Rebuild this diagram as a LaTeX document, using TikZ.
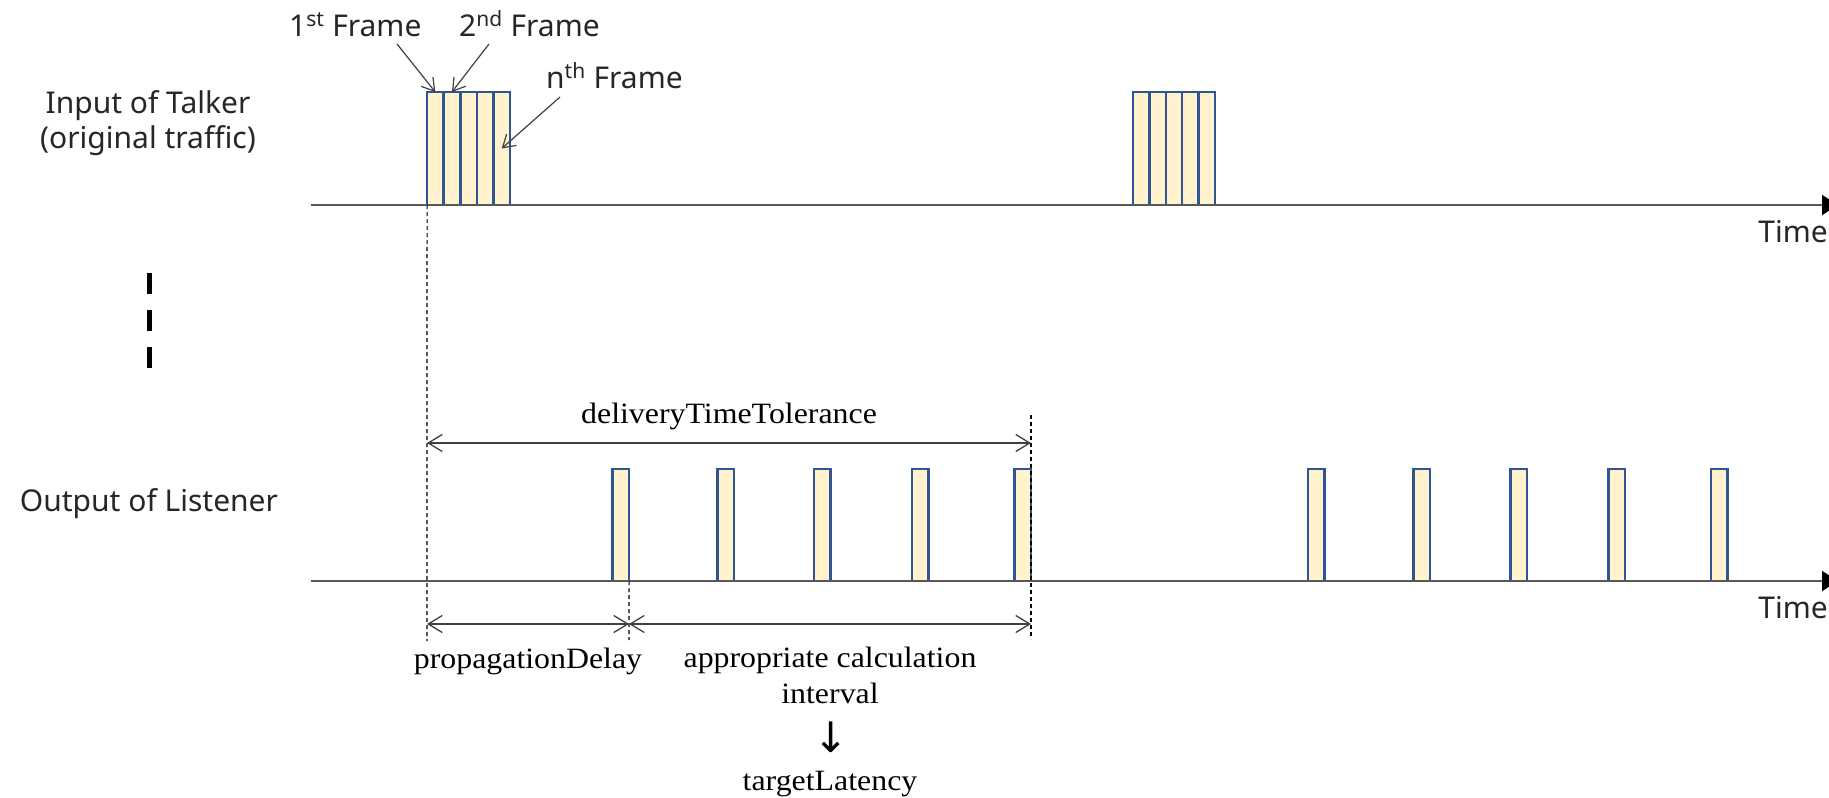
\documentclass[tikz,border=0pt]{standalone}
\usepackage{fontspec}
\usetikzlibrary{arrows.meta}
\newfontfamily\sansf{Noto Sans}
\newfontfamily\seriff[FakeStretch=1.08]{Liberation Serif}
\newfontfamily\arrowf{DejaVu Sans}
\definecolor{frfill}{HTML}{FFF2CC}
\definecolor{frdraw}{HTML}{2F5597}
\definecolor{axisc}{HTML}{595959}
\definecolor{dimc}{HTML}{404040}
\definecolor{txtc}{HTML}{262626}
\tikzset{
  frame/.style={draw=frdraw, fill=frfill, line width=2.5pt, minimum width=16.5pt, minimum height=113pt, inner sep=0pt, outer sep=0pt},
  pulse/.style={draw=frdraw, fill=frfill, line width=2.5pt, minimum width=16.5pt, minimum height=112pt, inner sep=0pt, outer sep=0pt},
  axisline/.style={draw=axisc, line width=1.8pt, -{Triangle[length=16pt,width=20pt,color=black]}},
  sanslab/.style={font=\sansf\fontsize{30}{36}\selectfont, text=txtc, inner sep=0pt},
  seriflab/.style={font=\seriff\fontsize{29.5}{36}\selectfont, text=black, inner sep=0pt},
  dimline/.style={draw=dimc, line width=1.3pt, {Straight Barb[length=14pt,width=17pt]}-{Straight Barb[length=14pt,width=17pt]}},
  callout/.style={draw=dimc, line width=1.2pt, -{Straight Barb[length=12pt,width=15pt]}},
  guide/.style={draw=black, line width=1.1pt, dash pattern=on 4pt off 3pt}
}
\begin{document}
\begin{tikzpicture}[x=1pt,y=-1pt]
\useasboundingbox (0,0) rectangle (1829,798);
% axes
\coordinate (ta0) at (311,205);
\coordinate (ta1) at (1838,205);
\coordinate (la0) at (311,581);
\coordinate (la1) at (1838,581);
% top frames
\foreach \i/\x in {1/435.3,2/451.9,3/468.5,4/485.1,5/501.7}
  \node[frame] (f\i) at (\x,148.5) {};
\foreach \i/\x in {1/1141.2,2/1157.6,3/1174,4/1190.4,5/1206.8}
  \node[frame] (g\i) at (\x,148.5) {};
% pulses
\foreach \i/\x in {1/620.8,2/725.5,3/822.4,4/920.4,5/1022.8,6/1316,7/1421.5,8/1518.5,9/1616.5,10/1719}
  \node[pulse] (p\i) at (\x,525) {};
\draw[axisline] (ta0) -- (ta1);
\draw[axisline] (la0) -- (la1);
% axis labels
\node[sanslab, anchor=base east] (time1) at (1828,242) {Time};
\node[sanslab, anchor=base east] (time2) at (1828,618) {Time};
\node[sanslab, anchor=base] (in1) at (148,113) {Input of Talker};
\node[sanslab, anchor=base] (in2) at (148,148) {(original traffic)};
\node[sanslab, anchor=base] (out1) at (149,511) {Output of Listener};
% vertical ellipsis dashes
\coordinate (vd0) at (149,273);
\coordinate (vd1) at (149,368);
\draw[line width=5pt, dash pattern=on 21pt off 16pt] (vd0) -- (vd1);
% frame labels
\node[sanslab, anchor=base west] (l1) at (289,36) {1\textsuperscript{st} Frame};
\node[sanslab, anchor=base west] (l2) at (459,36) {2\textsuperscript{nd} Frame};
\node[sanslab, anchor=base west] (ln) at (546,88) {n\textsuperscript{th} Frame};
\coordinate (s1) at (397,44);
\coordinate (s2) at (489,44);
\coordinate (sn) at (560,97);
\draw[callout] (s1) -- (f1.north);
\draw[callout] (s2) -- (f2.north);
\draw[callout] (sn) -- (f5.center);
% guide lines
\coordinate (gA) at (427,641);
\coordinate (gB) at (629,640);
\coordinate (gC0) at (1031,415);
\coordinate (gC1) at (1031,639);
\draw[guide] (f1.south west) -- (gA);
\draw[guide] (p1.south east) -- (gB);
\draw[guide] (gC0) -- (gC1);
% dimension lines
\coordinate (dt0) at (427,443);
\coordinate (dt1) at (1031,443);
\coordinate (pd0) at (427,624);
\coordinate (pd1) at (629,624);
\coordinate (ai1) at (1031,624);
\draw[dimline] (dt0) -- (dt1);
\draw[dimline] (pd0) -- (pd1);
\draw[dimline] (pd1) -- (ai1);
\node[seriflab, anchor=base] (dtt) at (729,423) {deliveryTimeTolerance};
\node[seriflab, anchor=base] (pdl) at (528,668) {propagationDelay};
\node[seriflab, anchor=base] (aci) at (830,667) {appropriate calculation};
\node[seriflab, anchor=base] (aci2) at (830,703) {interval};
\node[font=\arrowf\fontsize{42}{48}\selectfont, inner sep=0pt] (darr) at (831,737) {↓};
\node[seriflab, anchor=base] (tl) at (830,790) {targetLatency};
\end{tikzpicture}
\end{document}
